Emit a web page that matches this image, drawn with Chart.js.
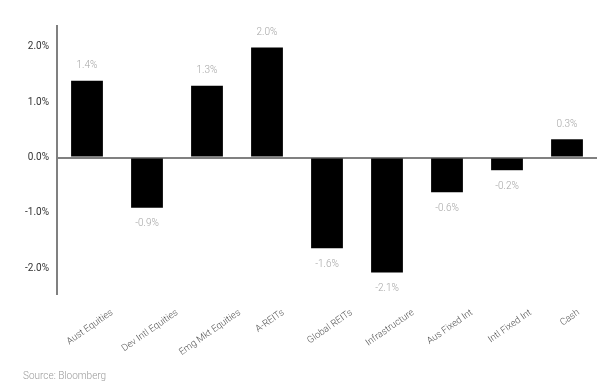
<!DOCTYPE html>
<html lang="en">
<head>
  <meta charset="UTF-8" />
  <title>Asset Class Returns</title>
  <style>
    html, body { margin: 0; padding: 0; background: white; }
    #wrap { position: relative; width: 602px; height: 385px; }
    #source {
      position: absolute; left: 23px; top: 370px;
      font: 300 10px Roboto, sans-serif; color: #999;
    }
  </style>
</head>
<body>
  <div id="wrap">
    <canvas id="barChart" width="602" height="385"></canvas>
    <div id="source">Source: Bloomberg</div>
  </div>

  <script src="https://cdn.jsdelivr.net/npm/chart.js"></script>
  <script>
    const categories = ['Aust Equities', 'Dev Intl Equities', 'Emg Mkt Equities', 'A-REITs', 'Global REITs',
      'Infrastructure', 'Aus Fixed Int', 'Intl Fixed Int', 'Cash'];
    const returns = [1.39, -0.91, 1.3, 1.99, -1.64, -2.08, -0.63, -0.23, 0.33];
    const valueLabels = ['1.4%', '-0.9%', '1.3%', '2.0%', '-1.6%', '-2.1%', '-0.6%', '-0.2%', '0.3%'];
    const yTicks = [-2, -1, 0, 1, 2];

    const font = 'Roboto, sans-serif';

    // value labels above / below each bar
    const valueLabelPlugin = {
      id: 'valueLabels',
      afterDatasetsDraw(chart) {
        const ctx = chart.ctx;
        const meta = chart.getDatasetMeta(0);
        ctx.save();
        ctx.font = '300 10px ' + font;
        ctx.fillStyle = '#a6a6a6';
        ctx.textAlign = 'center';
        ctx.textBaseline = 'middle';
        meta.data.forEach((bar, i) => {
          const off = returns[i] >= 0 ? -15 : 16;
          ctx.fillText(valueLabels[i], bar.x, bar.y + off);
        });
        ctx.restore();
      }
    };

    // rotated category labels, centred under each tick (Excel style)
    const catLabelPlugin = {
      id: 'catLabels',
      afterDraw(chart) {
        const ctx = chart.ctx;
        const xs = chart.scales.x;
        const ang = 35 * Math.PI / 180;
        const top = 308;
        ctx.save();
        ctx.font = '300 9.5px ' + font;
        ctx.fillStyle = '#555';
        ctx.textAlign = 'center';
        ctx.textBaseline = 'middle';
        categories.forEach((c, i) => {
          const w = ctx.measureText(c).width;
          const h = 9;
          const bh = w * Math.sin(ang) + h * Math.cos(ang);
          const x = xs.getPixelForValue(i) + 3;
          const y = top + bh / 2;
          ctx.save();
          ctx.translate(x, y);
          ctx.rotate(-ang);
          ctx.fillText(c, 0, 0);
          ctx.restore();
        });
        ctx.restore();
      }
    };

    new Chart(document.getElementById('barChart').getContext('2d'), {
      type: 'bar',
      data: {
        labels: categories,
        datasets: [{
          data: returns,
          backgroundColor: '#000',
          barPercentage: 0.53,
          categoryPercentage: 1
        }]
      },
      options: {
        responsive: false,
        animation: false,
        layout: { padding: { left: 0, right: 5, top: 26, bottom: 91 } },
        plugins: { legend: { display: false }, tooltip: { enabled: false } },
        scales: {
          x: { display: false },
          y: {
            min: -2.47,
            max: 2.38,
            afterFit(scale) { scale.width = 57; },
            afterBuildTicks(scale) { scale.ticks = yTicks.map(v => ({ value: v })); },
            border: { display: true, color: '#808080', width: 2 },
            grid: {
              drawTicks: false,
              lineWidth: 2,
              color: c => (c.tick && c.tick.value === 0) ? '#808080' : 'rgba(0,0,0,0)'
            },
            ticks: {
              padding: 8,
              color: '#333',
              font: { family: font, size: 10 },
              callback: v => v.toFixed(1) + '%'
            }
          }
        }
      },
      plugins: [valueLabelPlugin, catLabelPlugin]
    });
  </script>
</body>
</html>
